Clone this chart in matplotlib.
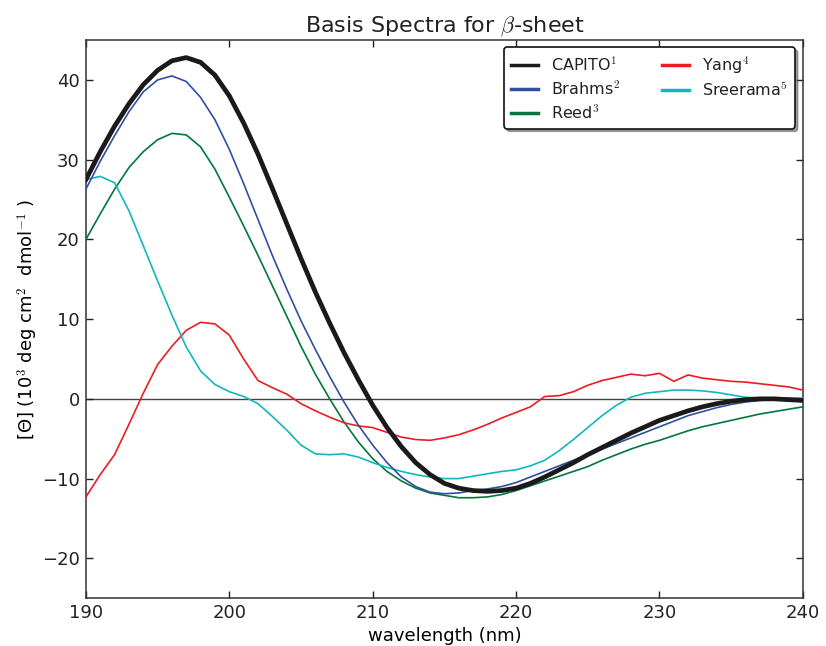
import numpy as np
import matplotlib
matplotlib.use("Agg")
import matplotlib.pyplot as plt

plt.rcParams['mathtext.fontset'] = 'cm'
plt.rcParams['font.family'] = ['DejaVu Sans']
plt.rcParams['text.color'] = '#222222'
plt.rcParams['xtick.color'] = '#222222'
plt.rcParams['ytick.color'] = '#222222'

# wavelength grid (nm), 1 nm steps
wavelength = np.arange(190, 241)

capito = [27.5, 31.0, 34.2, 37.0, 39.4, 41.2, 42.4, 42.8, 42.2, 40.6,
          38.0, 34.6, 30.7, 26.4, 22.0, 17.6, 13.4, 9.5, 5.8, 2.4,
          -0.8, -3.6, -6.0, -8.0, -9.5, -10.6, -11.2, -11.5, -11.6, -11.5,
          -11.2, -10.6, -9.8, -8.9, -8.0, -7.0, -6.1, -5.2, -4.3, -3.5,
          -2.7, -2.1, -1.5, -1.0, -0.6, -0.3, -0.1, 0.0, 0.0, -0.1, -0.2]

brahms = [26.3, 29.8, 33.0, 36.0, 38.5, 40.0, 40.5, 39.8, 37.8, 35.0,
          31.3, 27.0, 22.5, 18.0, 13.8, 9.8, 6.2, 2.8, -0.4, -3.3,
          -5.8, -8.0, -9.8, -11.0, -11.7, -11.9, -11.8, -11.5, -11.3, -11.0,
          -10.5, -9.8, -9.1, -8.4, -7.7, -7.0, -6.3, -5.6, -4.9, -4.2,
          -3.5, -2.8, -2.1, -1.6, -1.1, -0.7, -0.4, -0.2, -0.1, -0.1, -0.1]

reed = [20.0, 23.2, 26.3, 29.0, 31.0, 32.5, 33.3, 33.1, 31.6, 28.8,
        25.3, 21.7, 18.0, 14.2, 10.4, 6.6, 3.1, 0.0, -2.9, -5.4,
        -7.5, -9.1, -10.3, -11.2, -11.8, -12.1, -12.4, -12.4, -12.3, -12.0,
        -11.5, -10.9, -10.3, -9.7, -9.1, -8.5, -7.7, -7.0, -6.3, -5.7,
        -5.2, -4.6, -4.0, -3.5, -3.1, -2.7, -2.3, -1.9, -1.6, -1.3, -1.0]

yang = [-12.3, -9.5, -7.0, -3.2, 0.7, 4.3, 6.6, 8.6, 9.6, 9.4,
        8.0, 5.0, 2.3, 1.4, 0.6, -0.6, -1.5, -2.3, -3.0, -3.4,
        -3.6, -4.2, -4.8, -5.1, -5.2, -4.9, -4.5, -3.9, -3.2, -2.4,
        -1.7, -1.0, 0.3, 0.4, 0.9, 1.7, 2.3, 2.7, 3.1, 2.9,
        3.2, 2.2, 3.0, 2.6, 2.4, 2.2, 2.1, 1.9, 1.7, 1.5, 1.1]

sreerama = [27.5, 27.9, 27.1, 23.6, 19.2, 14.8, 10.5, 6.5, 3.5, 1.8,
            0.9, 0.3, -0.6, -2.2, -3.9, -5.8, -6.9, -7.0, -6.9, -7.3,
            -8.0, -8.6, -9.1, -9.5, -9.8, -10.0, -10.0, -9.7, -9.4, -9.1,
            -8.9, -8.4, -7.7, -6.5, -5.1, -3.6, -2.1, -0.8, 0.2, 0.7,
            0.9, 1.1, 1.1, 1.0, 0.8, 0.5, 0.2, 0.1, 0.1, 0.1, 0.1]

fig = plt.figure(figsize=(8.26, 6.46), dpi=100)
ax = fig.add_axes([0.104, 0.074, 0.868, 0.864])

ax.axhline(0, color='#444444', lw=1.0, zorder=1)
ax.plot(wavelength, capito, color='#1a1a1a', lw=3.4, label=r'CAPITO$^1$', zorder=5)
ax.plot(wavelength, brahms, color='#2f4fa2', lw=1.2, label=r'Brahms$^2$', zorder=4)
ax.plot(wavelength, reed, color='#00773c', lw=1.2, label=r'Reed$^3$', zorder=3)
ax.plot(wavelength, yang, color='#ec1c24', lw=1.2, label=r'Yang$^4$', zorder=3)
ax.plot(wavelength, sreerama, color='#12b6bc', lw=1.2, label=r'Sreerama$^5$', zorder=3)

ax.set_xlim(190, 240)
ax.set_ylim(-25, 45)
ax.set_xticks([190, 200, 210, 220, 230, 240])
ax.set_yticks([-20, -10, 0, 10, 20, 30, 40])
ax.tick_params(direction='in', top=True, right=True, length=5, width=1, labelsize=13, pad=4.5)
for s in ax.spines.values():
    s.set_linewidth(1.1)
    s.set_color('#333333')

ax.set_title(r'Basis Spectra for $\beta$-sheet', fontsize=16, pad=6)
ax.set_xlabel('wavelength (nm)', fontsize=13, labelpad=3.5)
ax.set_ylabel('[Θ] (10$^3$ deg cm$^2$  dmol$^{-1}$ )', fontsize=13, labelpad=1)

leg = ax.legend(loc='upper right', ncol=2, shadow=True, fancybox=True, fontsize=11.5,
                handlelength=1.7, handletextpad=0.8, columnspacing=2.6,
                borderpad=0.45, labelspacing=0.35, borderaxespad=0,
                bbox_to_anchor=(0.9888, 0.9875))
leg.get_frame().set_edgecolor('#111111')
leg.get_frame().set_linewidth(1.2)
for h in leg.get_lines():
    h.set_linewidth(2.5)

fig.savefig('out.png', dpi=100)
